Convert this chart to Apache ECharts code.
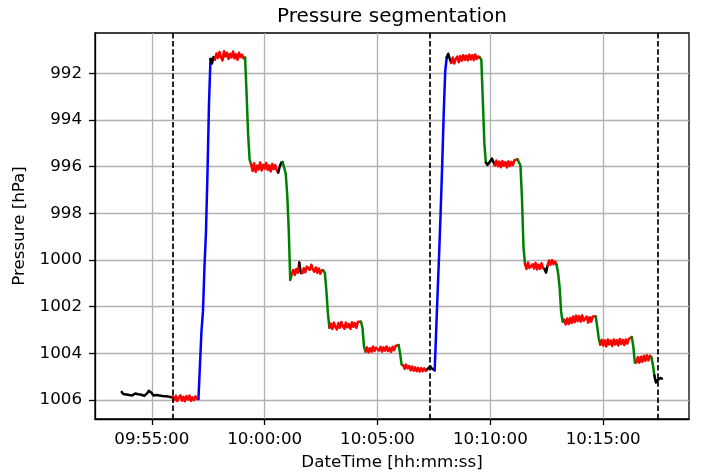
<!DOCTYPE html>
<html>
<head>
<meta charset="utf-8">
<script src="https://cdn.jsdelivr.net/npm/echarts@6/dist/echarts.min.js"></script>
<style>
  html, body { margin: 0; padding: 0; background: #ffffff; }
  #chart { width: 702px; height: 476px; }
</style>
</head>
<body>
<div id="chart"></div>
<script>
// Barometer log, one reading every 4 s, split into labelled phases.
const STEP = 4;

// Phase readings [hPa]
const idle1  = [1005.65, 1005.74, 1005.70, 1005.76, 1005.70, 1005.78, 1005.72, 1005.80, 1005.74, 1005.72,
                1005.80, 1005.75, 1005.83, 1005.77, 1005.74, 1005.82, 1005.78, 1005.70, 1005.60, 1005.53,
                1005.70, 1005.80, 1005.83, 1005.78, 1005.86, 1005.80, 1005.88, 1005.82, 1005.90, 1005.84,
                1005.91, 1005.85, 1005.93, 1005.88];
const hold0  = [1005.85, 1006.00, 1005.82, 1006.04, 1005.90, 1005.80, 1006.02, 1005.86, 1006.05, 1005.83,
                1005.98, 1005.81, 1006.03, 1005.88, 1006.00, 1005.84, 1005.95];
const rise1  = [1005.95, 1004.5, 1003.05, 1002.2, 1000.3, 998.8, 996.3, 993.3];
const idle2  = [991.38, 991.58, 991.30];
const hold1  = [991.40, 991.15, 991.34, 991.08, 991.30, 991.45, 991.05, 991.28, 991.12, 991.38,
                991.16, 991.32, 991.06, 991.36, 991.18, 991.42, 991.12, 991.30, 991.20, 991.36];
const step1  = [991.32, 992.9, 994.6, 995.7];
const hold2  = [995.90, 996.18, 995.85, 996.22, 995.95, 996.12, 995.82, 996.16, 995.92, 996.08,
                995.84, 996.14, 995.94, 996.20, 995.88, 996.10, 995.93, 996.15];
const idle3  = [996.25, 996.0, 995.83];
const step2  = [995.8, 995.78, 996.3, 997.2, 998.7, 1000.85];
const hold3a = [1000.60, 1000.42, 1000.64, 1000.38, 1000.55];
const blip1  = [1000.10, 1000.55];
const hold3b = [1000.55, 1000.35, 1000.52, 1000.28, 1000.24, 1000.42, 1000.20, 1000.40, 1000.50, 1000.32,
                1000.55, 1000.36, 1000.58, 1000.44];
const step3  = [1000.45, 1000.55, 1001.3, 1002.25];
const hold4  = [1002.90, 1002.72, 1002.95, 1002.68, 1002.86, 1002.97, 1002.70, 1002.90, 1002.65, 1002.84,
                1002.94, 1002.68, 1002.88, 1002.74, 1002.95, 1002.66, 1002.86, 1002.70, 1002.90, 1002.64,
                1002.62];
const step4  = [1002.64, 1002.9, 1003.7];
const hold5  = [1003.92, 1003.74, 1003.96, 1003.78, 1003.93, 1003.70, 1003.90, 1003.75, 1003.68, 1003.88,
                1003.72, 1003.92, 1003.74, 1003.88, 1003.70, 1003.90, 1003.76, 1003.93, 1003.72, 1003.86,
                1003.68, 1003.62];
const step5  = [1003.64, 1004.0, 1004.48];
const hold6  = [1004.50, 1004.66, 1004.48, 1004.64, 1004.54, 1004.72, 1004.56, 1004.74, 1004.60, 1004.76,
                1004.62, 1004.78, 1004.63, 1004.76, 1004.64, 1004.75];
const idle4  = [1004.68, 1004.60, 1004.55, 1004.64, 1004.70];
const rise2  = [1004.72, 1003.0, 1001.3, 999.65, 997.85, 995.9, 993.7, 991.9];
const idle5  = [991.32, 991.16, 991.38];
const hold7  = [991.55, 991.32, 991.58, 991.38, 991.28, 991.52, 991.26, 991.46, 991.22, 991.42,
                991.24, 991.44, 991.20, 991.40, 991.22, 991.43, 991.19, 991.38, 991.28];
const step6  = [991.32, 991.42, 993.2, 995.0];
const idle6  = [995.82, 995.92, 995.86, 995.76, 995.65, 995.60];
const hold8  = [995.94, 995.74, 995.98, 995.78, 996.02, 995.76, 995.96, 995.80, 996.03, 995.77,
                995.97, 995.79, 995.93, 995.72, 995.66];
const step7  = [995.68, 995.74, 995.95, 997.35, 999.45];
const hold9  = [1000.16, 1000.38, 1000.10, 1000.34, 1000.42, 1000.18, 1000.36, 1000.12, 1000.40, 1000.20,
                1000.37, 1000.14, 1000.34];
const blip2  = [1000.38, 1000.54];
const hold10 = [1000.24, 1000.02, 1000.20, 1000.00, 1000.18, 1000.06];
const step8  = [1000.2, 1000.55, 1001.15, 1002.2, 1002.65];
const hold11 = [1002.56, 1002.76, 1002.50, 1002.74, 1002.48, 1002.70, 1002.42, 1002.66, 1002.38, 1002.62,
                1002.40, 1002.64, 1002.37, 1002.60, 1002.66, 1002.42, 1002.68, 1002.45, 1002.64, 1002.42,
                1002.40];
const step9  = [1002.42, 1002.85, 1003.35];
const hold12 = [1003.62, 1003.42, 1003.66, 1003.44, 1003.70, 1003.40, 1003.62, 1003.45, 1003.68, 1003.40,
                1003.62, 1003.43, 1003.66, 1003.38, 1003.60, 1003.42, 1003.64, 1003.40, 1003.58, 1003.38,
                1003.32];
const step10 = [1003.30, 1003.7, 1004.4];
const hold13 = [1004.38, 1004.16, 1004.40, 1004.14, 1004.36, 1004.10, 1004.32, 1004.08, 1004.30, 1004.10];
const step11 = [1004.16, 1004.48];
const idle7  = [1004.95, 1005.25, 1005.15, 1005.10, 1005.05, 1005.08];

// Phase table: kind, start time, readings
const phases = [
  ['idle', '09:53:40', idle1],  ['hold', '09:55:56', hold0],  ['rise', '09:57:04', rise1],
  ['idle', '09:57:36', idle2],  ['hold', '09:57:48', hold1],  ['step', '09:59:08', step1],
  ['hold', '09:59:24', hold2],  ['idle', '10:00:36', idle3],  ['step', '10:00:48', step2],
  ['hold', '10:01:12', hold3a], ['idle', '10:01:32', blip1],  ['hold', '10:01:40', hold3b],
  ['step', '10:02:36', step3],  ['hold', '10:02:52', hold4],  ['step', '10:04:16', step4],
  ['hold', '10:04:28', hold5],  ['step', '10:05:56', step5],  ['hold', '10:06:08', hold6],
  ['idle', '10:07:12', idle4],  ['rise', '10:07:32', rise2],  ['idle', '10:08:04', idle5],
  ['hold', '10:08:16', hold7],  ['step', '10:09:32', step6],  ['idle', '10:09:48', idle6],
  ['hold', '10:10:12', hold8],  ['step', '10:11:12', step7],  ['hold', '10:11:32', hold9],
  ['idle', '10:12:24', blip2],  ['hold', '10:12:32', hold10], ['step', '10:12:56', step8],
  ['hold', '10:13:16', hold11], ['step', '10:14:40', step9],  ['hold', '10:14:52', hold12],
  ['step', '10:16:16', step10], ['hold', '10:16:28', hold13], ['step', '10:17:08', step11],
  ['idle', '10:17:16', idle7]
];

// Segment boundaries (dashed markers)
const boundaries = ['09:55:57', '10:07:19', '10:17:24'];

// Axis ticks
const timeTicks = ['09:55:00', '10:00:00', '10:05:00', '10:10:00', '10:15:00'];
const pressureTicks = [992, 994, 996, 998, 1000, 1002, 1004, 1006];
const timeRange = ['09:52:29', '10:18:48'];
const pressureRange = [990.27, 1006.81];

const kindColor = { idle: '#000000', hold: '#ff0000', rise: '#0000ff', step: '#008000' };

function toSec(hms) {
  const p = hms.split(':').map(Number);
  return p[0] * 3600 + p[1] * 60 + p[2];
}
function fmt(sec) {
  const s = Math.round(sec);
  const pad = n => String(n).padStart(2, '0');
  return pad(Math.floor(s / 3600)) + ':' + pad(Math.floor(s / 60) % 60) + ':' + pad(s % 60);
}

const FONT = 'DejaVu Sans';

const series = phases.map(([kind, start, vals], i) => {
  const t0 = toSec(start);
  const pts = vals.map((v, j) => [t0 + j * STEP, v]);
  const next = phases[i + 1];
  if (next) pts.push([toSec(next[1]), next[2][0]]);
  return {
    type: 'line',
    data: pts,
    showSymbol: false,
    symbol: 'none',
    silent: true,
    lineStyle: { color: kindColor[kind], width: 2.5, join: 'round', cap: 'round' },
    z: 3
  };
});

series.push({
  type: 'line',
  data: [],
  silent: true,
  z: 4,
  markLine: {
    symbol: 'none',
    silent: true,
    animation: false,
    label: { show: false },
    lineStyle: { color: '#000000', width: 1.7, type: [5.5, 2.6] },
    data: boundaries.map(b => ({ xAxis: toSec(b) }))
  }
});

const chart = echarts.init(document.getElementById('chart'), null, { renderer: 'canvas' });
chart.setOption({
  animation: false,
  backgroundColor: '#ffffff',
  textStyle: { fontFamily: FONT },
  title: {
    text: 'Pressure segmentation',
    left: 392,
    top: 7,
    padding: 0,
    textAlign: 'center',
    textStyle: { fontFamily: FONT, fontSize: 20, fontWeight: 'normal', color: '#000000' }
  },
  grid: {
    left: 95, right: 13, top: 33, bottom: 57,
    show: true, borderColor: '#000000', borderWidth: 1.3, backgroundColor: 'transparent'
  },
  xAxis: {
    type: 'value',
    min: toSec(timeRange[0]),
    max: toSec(timeRange[1]),
    name: 'DateTime [hh:mm:ss]',
    nameLocation: 'middle',
    nameGap: 35,
    nameTextStyle: { fontFamily: FONT, fontSize: 16.7, color: '#000000' },
    axisLine: { show: true, lineStyle: { color: '#000000', width: 1.3 } },
    axisTick: { show: true, length: 6, lineStyle: { color: '#000000', width: 1.3 },
                customValues: timeTicks.map(toSec) },
    axisLabel: { fontFamily: FONT, fontSize: 16.7, color: '#000000', margin: 12,
                 customValues: timeTicks.map(toSec), formatter: v => fmt(v) },
    splitLine: { show: true, lineStyle: { color: '#b0b0b0', width: 1.3 } }
  },
  yAxis: {
    type: 'value',
    inverse: true,
    min: pressureRange[0],
    max: pressureRange[1],
    name: 'Pressure [hPa]',
    nameLocation: 'middle',
    nameGap: 60,
    nameRotate: 90,
    nameTextStyle: { fontFamily: FONT, fontSize: 16.7, color: '#000000' },
    axisLine: { show: true, lineStyle: { color: '#000000', width: 1.3 } },
    axisTick: { show: true, length: 6, lineStyle: { color: '#000000', width: 1.3 },
                customValues: pressureTicks },
    axisLabel: { fontFamily: FONT, fontSize: 16.7, color: '#000000', margin: 13,
                 customValues: pressureTicks, formatter: v => String(Math.round(v)) },
    splitLine: { show: true, lineStyle: { color: '#b0b0b0', width: 1.3 } }
  },
  series: series
});
</script>
</body>
</html>
